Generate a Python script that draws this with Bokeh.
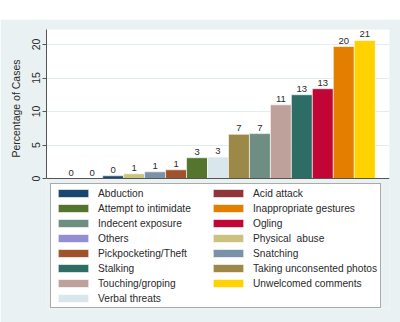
import math
from bokeh.plotting import figure
from bokeh.models import (ColumnDataSource, FactorRange, Range1d, FixedTicker,
                          Legend, LegendItem, Spacer, Span, BoxAnnotation, Title)
from bokeh.layouts import column
from bokeh.embed import file_html
from bokeh.resources import INLINE

# ---- data (bars sorted by value, as drawn) ----
categories = ["Acid attack", "Others", "Abduction", "Physical  abuse", "Snatching",
              "Pickpocketing/Theft", "Attempt to intimidate", "Verbal threats",
              "Taking unconsented photos", "Indecent exposure", "Touching/groping",
              "Stalking", "Ogling", "Inappropriate gestures", "Unwelcomed comments"]
values = [0.0, 0.0, 0.4, 0.7, 1.0, 1.3, 3.1, 3.2, 6.6, 6.7, 11.0, 12.5, 13.4, 19.7, 20.6]
colors = ["#90353B", "#938DD2", "#1A476F", "#CAC27E", "#7A91A8",
          "#A0522D", "#55752F", "#D9E6EB", "#9C8847", "#6E8E84", "#BFA19C",
          "#2D6D66", "#C10534", "#E37E00", "#FFD200"]
legend_order = ["Abduction", "Acid attack", "Attempt to intimidate", "Inappropriate gestures",
                "Indecent exposure", "Ogling", "Others", "Physical  abuse",
                "Pickpocketing/Theft", "Snatching", "Stalking", "Taking unconsented photos",
                "Touching/groping", "Unwelcomed comments", "Verbal threats"]
y_ticks = [0, 5, 10, 15, 20]
y_top = 22.24

labels = [str(int(math.floor(v + 0.5))) for v in values]
src = ColumnDataSource(dict(cat=categories, val=values, col=colors, lab=labels))

FONT = "Liberation Sans"
BG = "#EAF1F3"
INK = "#2a2a2a"

p = figure(width=400, height=303, output_backend="svg", toolbar_location=None,
           x_range=FactorRange(*categories, range_padding=0.68, range_padding_units="absolute"),
           y_range=Range1d(-19.40, y_top),
           min_border_left=44, min_border_top=10, min_border_right=11, min_border_bottom=14,
           border_fill_color=BG, background_fill_color=BG, outline_line_color=None)

# white plot region (above zero); legend sits below it on the bluish background
p.add_layout(BoxAnnotation(bottom=0, top=y_top, fill_color="white", fill_alpha=1.0,
                           line_color=None, level="image"))

r = p.vbar(x="cat", top="val", width=1.0, source=src, fill_color="col",
           line_color="white", line_width=0.6)
p.text(x="cat", y="val", text="lab", source=src, text_align="center",
       text_baseline="bottom", y_offset=-3, text_font_size="9.5px",
       text_color=INK, text_font={"value": FONT})

# axes
p.yaxis.bounds = (0, y_top)
p.yaxis.ticker = FixedTicker(ticks=y_ticks)
p.yaxis.minor_tick_line_color = None
p.yaxis.major_tick_out = 4
p.yaxis.major_tick_in = 0
p.yaxis.major_label_orientation = "vertical"
p.yaxis.major_label_standoff = 2
p.yaxis.major_label_text_font = FONT
p.yaxis.major_label_text_font_size = "10.5px"
p.yaxis.major_label_text_color = INK
p.yaxis.axis_line_color = "#555555"
p.yaxis.major_tick_line_color = "#555555"

p.add_layout(Title(text="Percentage of Cases", align="right", offset=30,
                   text_font=FONT, text_font_size="10.5px", text_font_style="normal",
                   text_color=INK, standoff=15), "left")

p.xaxis.visible = False
p.add_layout(Span(location=0, dimension="width", line_color="#555555", line_width=1))

p.xgrid.grid_line_color = None
p.ygrid.ticker = FixedTicker(ticks=y_ticks[1:])
p.ygrid.grid_line_color = "#E3ECEE"
p.ygrid.grid_line_width = 1

items = [LegendItem(label=name, renderers=[r], index=categories.index(name))
         for name in legend_order]
legend = Legend(items=items, orientation="horizontal", ncols=2, location=(4, 0),
                glyph_width=38, glyph_height=10, label_standoff=6, label_height=12,
                label_width=108, spacing=3, padding=3, margin=0,
                label_text_font=FONT, label_text_font_size="10.2px",
                label_text_color=INK,
                border_line_color="#555555", border_line_width=1,
                background_fill_color="white", background_fill_alpha=1.0)
p.add_layout(legend, "center")

layout = column(Spacer(height=19), p)
open("out.html", "w").write(file_html(layout, INLINE))
